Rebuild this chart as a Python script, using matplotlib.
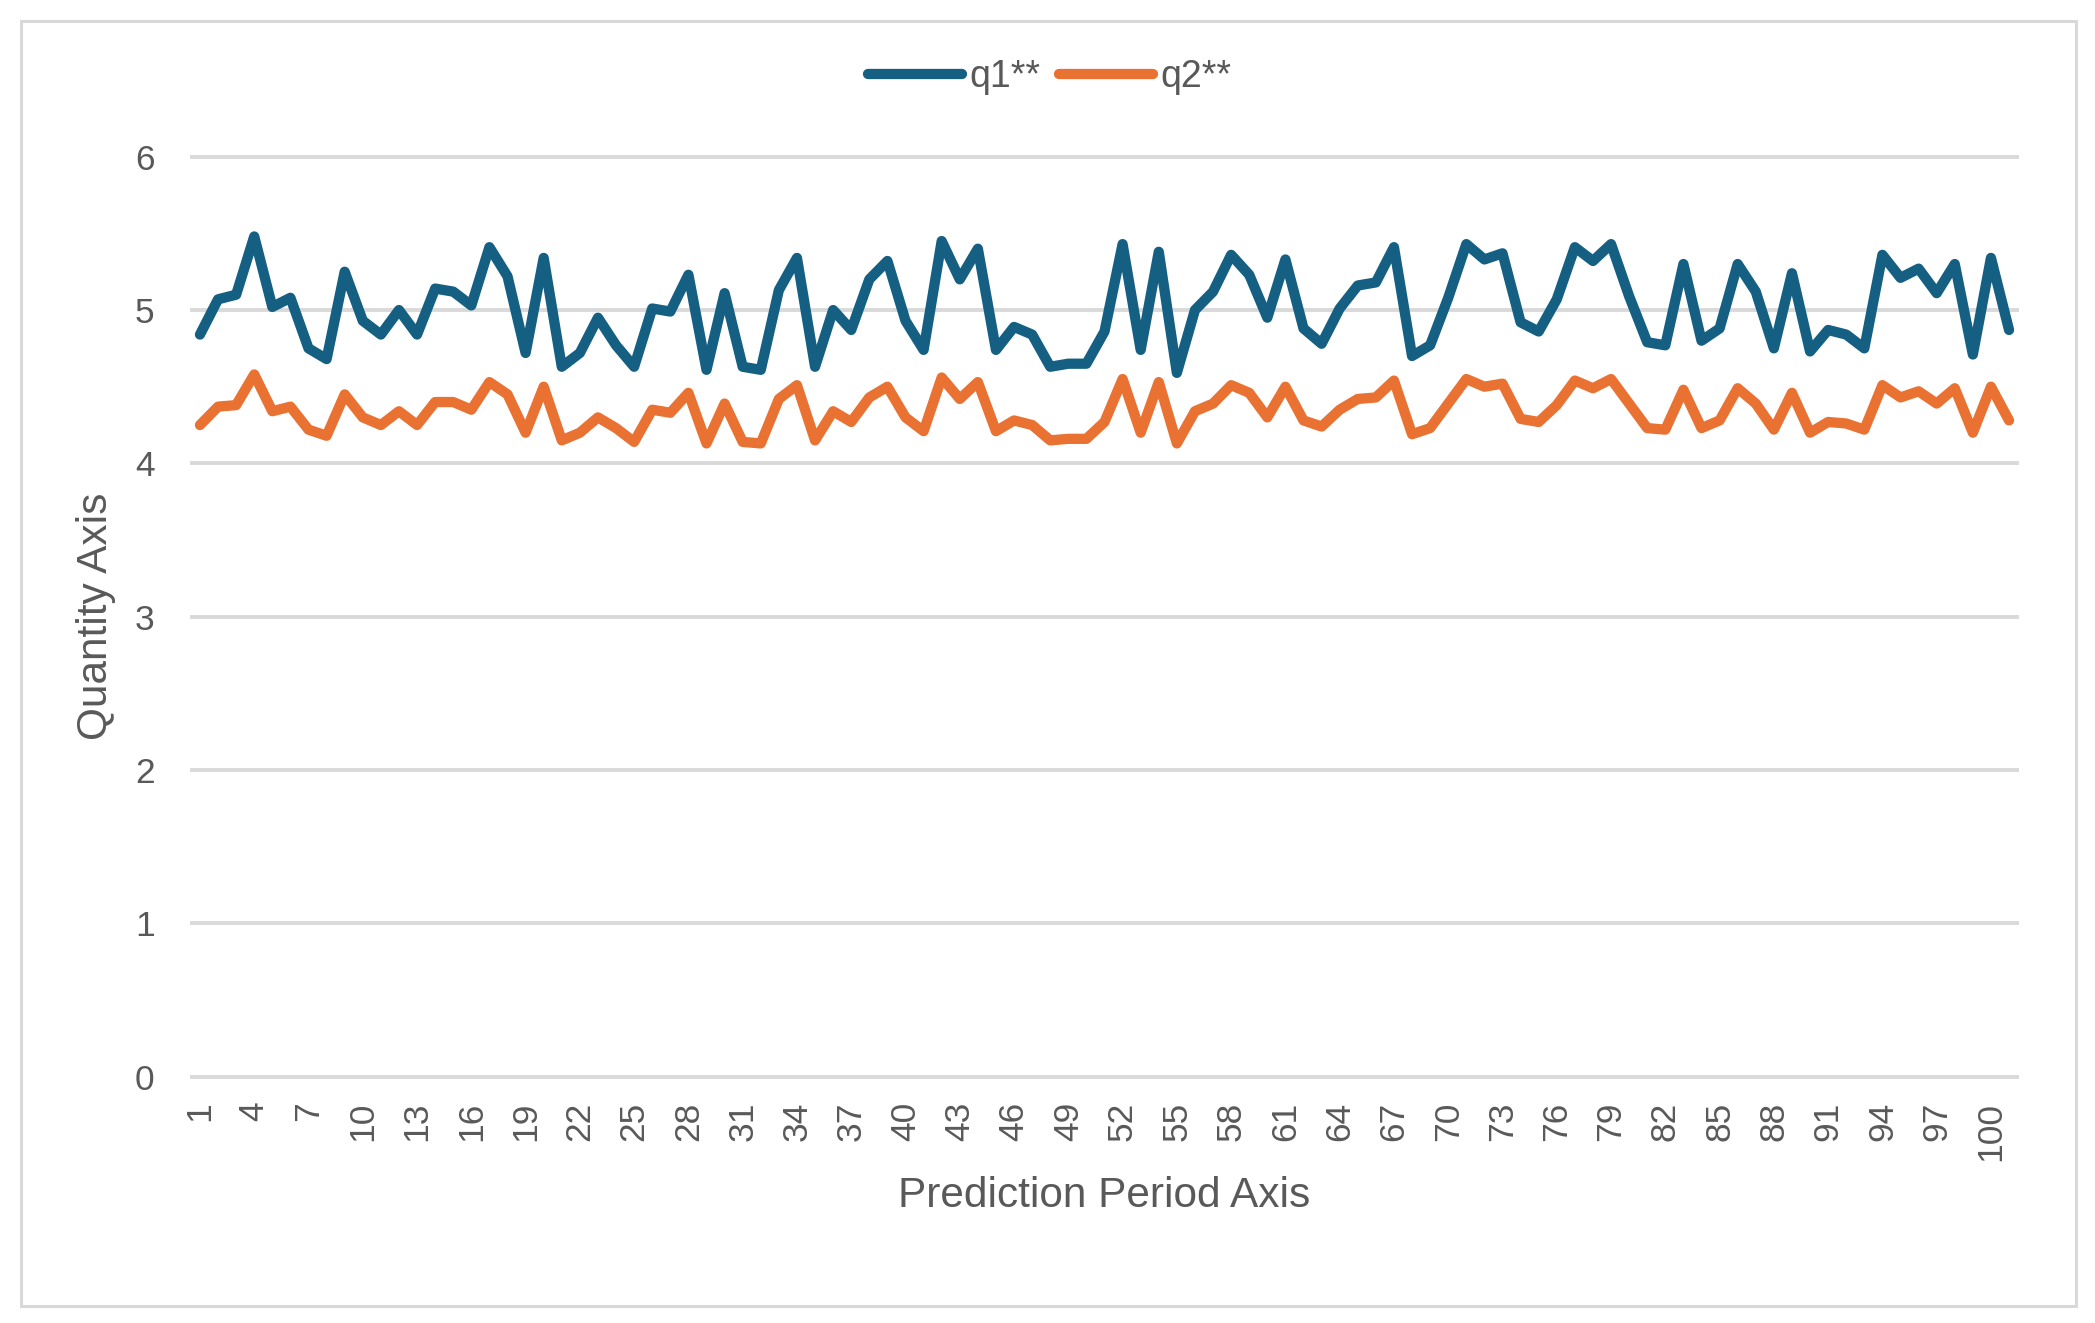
import matplotlib.pyplot as plt
from matplotlib.lines import Line2D
from matplotlib.patches import Rectangle

# Periodos de previsao (1..101)
periodos = list(range(1, 102))

# Valores
q1 = [4.84, 5.07, 5.10, 5.48, 5.02, 5.08, 4.75, 4.68, 5.25, 4.93,
      4.84, 5.00, 4.84, 5.14, 5.12, 5.03, 5.41, 5.22, 4.72, 5.34,
      4.63, 4.72, 4.95, 4.77, 4.63, 5.01, 4.99, 5.23, 4.61, 5.11,
      4.63, 4.61, 5.13, 5.34, 4.63, 5.00, 4.87, 5.20, 5.32, 4.93,
      4.74, 5.45, 5.20, 5.40, 4.74, 4.89, 4.84, 4.63, 4.65, 4.65,
      4.86, 5.43, 4.74, 5.38, 4.59, 5.00, 5.12, 5.36, 5.23, 4.95,
      5.33, 4.88, 4.78, 5.01, 5.16, 5.18, 5.41, 4.70, 4.77, 5.08,
      5.43, 5.33, 5.37, 4.92, 4.86, 5.07, 5.41, 5.32, 5.43, 5.09,
      4.79, 4.77, 5.30, 4.80, 4.88, 5.30, 5.12, 4.75, 5.24, 4.73,
      4.87, 4.84, 4.75, 5.36, 5.21, 5.27, 5.11, 5.30, 4.71, 5.34,
      4.87]

q2 = [4.25, 4.37, 4.38, 4.58, 4.34, 4.37, 4.22, 4.18, 4.45, 4.30,
      4.25, 4.34, 4.25, 4.40, 4.40, 4.35, 4.53, 4.45, 4.20, 4.50,
      4.15, 4.20, 4.30, 4.23, 4.14, 4.35, 4.33, 4.46, 4.13, 4.39,
      4.14, 4.13, 4.42, 4.51, 4.15, 4.34, 4.27, 4.43, 4.50, 4.30,
      4.21, 4.56, 4.42, 4.53, 4.21, 4.28, 4.25, 4.15, 4.16, 4.16,
      4.27, 4.55, 4.20, 4.53, 4.13, 4.34, 4.39, 4.51, 4.46, 4.30,
      4.50, 4.28, 4.24, 4.35, 4.42, 4.43, 4.54, 4.19, 4.23, 4.39,
      4.55, 4.50, 4.52, 4.29, 4.27, 4.38, 4.54, 4.49, 4.55, 4.39,
      4.23, 4.22, 4.48, 4.23, 4.28, 4.49, 4.39, 4.22, 4.46, 4.20,
      4.27, 4.26, 4.22, 4.51, 4.43, 4.47, 4.39, 4.49, 4.20, 4.50,
      4.28]

# Rotulos do eixo x: de 3 em 3
rotulos_x = list(range(1, 101, 3))
ticks_y = [0, 1, 2, 3, 4, 5, 6]

cor1 = "#156082"
cor2 = "#E97132"
cinza = "#595959"
grade = "#D9D9D9"

plt.rcParams["font.family"] = ["Liberation Sans", "DejaVu Sans"]

W, H = 2095, 1323
fig = plt.figure(figsize=(W / 100, H / 100), dpi=100)

# Borda do grafico
fig.patches.append(Rectangle((21 / W, 17 / H), 2055 / W, 1285 / H,
                             transform=fig.transFigure, fill=False,
                             edgecolor=grade, linewidth=2.2))

ax = fig.add_axes([192 / W, 1 - 1076.7 / H, 1825 / W, 920 / H])

ax.plot(periodos, q1, color=cor1, linewidth=7.4,
        solid_joinstyle="round", solid_capstyle="round", zorder=3)
ax.plot(periodos, q2, color=cor2, linewidth=7.4,
        solid_joinstyle="round", solid_capstyle="round", zorder=3)

ax.set_xlim(0.56, 101.44)
ax.set_ylim(0, 6)
ax.set_yticks(ticks_y)
ax.set_xticks(rotulos_x)
ax.set_xticklabels([str(i) for i in rotulos_x], rotation=90)

ax.tick_params(axis="y", length=0, pad=27, labelsize=25.5, labelcolor=cinza)
ax.tick_params(axis="x", length=0, pad=18, labelsize=25.5, labelcolor=cinza)

ax.grid(axis="y", color=grade, linewidth=2.8)
for linha in ax.get_ygridlines():
    linha.set_clip_on(False)
ax.set_axisbelow(True)
for lado in ax.spines.values():
    lado.set_visible(False)

# Titulos dos eixos
fig.text(96 / W, 1 - 616 / H, "Quantity Axis", rotation=90, ha="center",
         va="center", fontsize=30.5, color=cinza)
fig.text(1104 / W, 1 - 1207 / H, "Prediction Period Axis", ha="center",
         va="baseline", fontsize=30.5, color=cinza)

# Legenda no topo
handles = [Line2D([], [], color=cor1, linewidth=7.4, solid_capstyle="round"),
           Line2D([], [], color=cor2, linewidth=7.4, solid_capstyle="round")]
fig.legend(handles, ["q1**", "q2**"], loc="center",
           bbox_to_anchor=(1050 / W, 1 - 77 / H), ncol=2, frameon=False,
           fontsize=27, labelcolor=cinza, handlelength=2.5,
           handletextpad=0.2, columnspacing=0.5)

fig.savefig("out.png", dpi=100)
